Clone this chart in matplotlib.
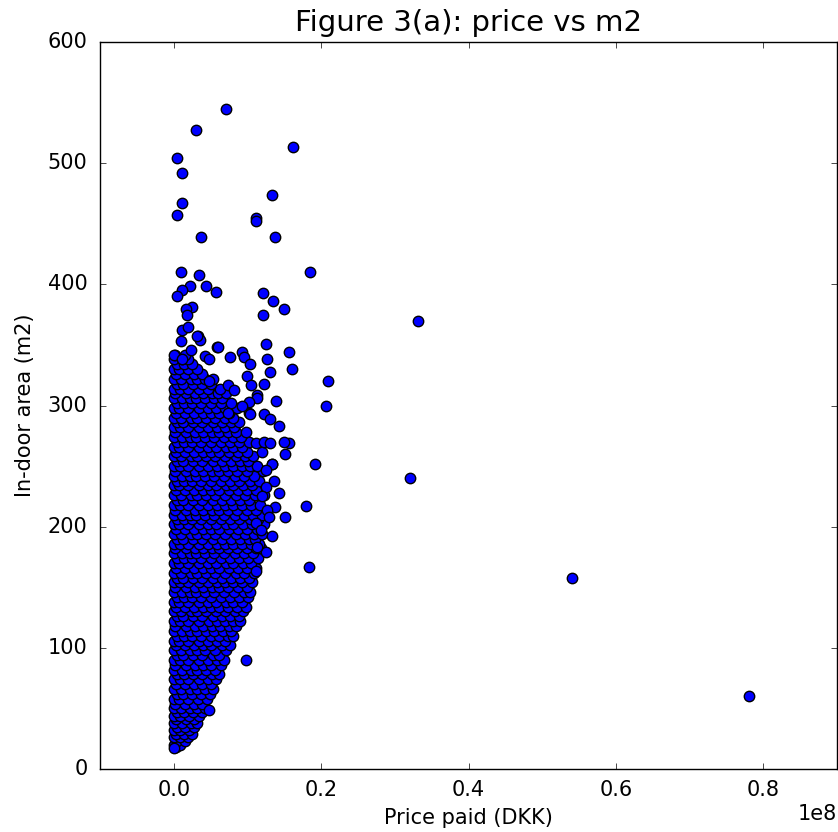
import matplotlib
matplotlib.use("Agg")
import matplotlib.pyplot as plt
from matplotlib.ticker import ScalarFormatter

plt.style.use('classic')

# Dense body of the cloud: area (m2) -> list of prices (million DKK)
dense_rows = {
    18: [0.3],
    20: [0.1, 0.9],
    23: [0.4, 1.5],
    26: [0.0, 0.8, 2.0],
    29: [0.3, 1.4, 2.5],
    32: [0.1, 0.9, 2.1],
    35: [0.5, 1.6, 2.8],
    38: [0.0, 1.1, 2.3, 3.1],
    41: [0.3, 1.7, 2.7],
    44: [0.1, 0.8, 2.1, 3.4],
    47: [0.4, 1.4, 2.6, 3.8],
    50: [0.0, 1.0, 2.2, 3.1, 4.2],
    54: [0.2, 1.6, 2.8, 3.9],
    58: [0.1, 0.7, 1.9, 3.3, 4.5],
    62: [0.4, 1.3, 2.5, 3.7, 4.9],
    66: [0.0, 1.0, 2.2, 3.1, 4.3, 5.3],
    70: [0.3, 1.6, 2.7, 3.9, 5.0],
    74: [0.1, 0.8, 2.0, 3.4, 4.6, 5.8],
    78: [0.5, 1.4, 2.6, 3.8, 5.2, 6.1],
    82: [0.0, 1.1, 2.3, 3.1, 4.4, 5.6],
    86: [0.2, 1.7, 2.9, 4.0, 5.0, 6.4],
    90: [0.1, 0.9, 2.0, 3.5, 4.7, 5.9, 6.8],
    94: [0.4, 1.3, 2.6, 3.8, 5.3, 6.2],
    98: [0.0, 1.0, 2.2, 3.2, 4.3, 5.6, 7.1],
    102: [0.3, 1.6, 2.8, 4.0, 5.1, 6.5, 7.6],
    106: [0.1, 0.7, 1.9, 3.4, 4.6, 5.9, 6.9],
    110: [0.5, 1.4, 2.5, 3.7, 5.0, 6.2, 7.3, 8.1],
    114: [0.0, 1.1, 2.2, 3.1, 4.4, 5.5, 6.7, 7.8],
    118: [0.2, 1.7, 2.9, 4.0, 5.2, 6.3, 7.5, 8.5],
    122: [0.1, 0.9, 2.0, 3.5, 4.8, 5.9, 7.0, 8.1, 9.0],
    126: [0.4, 1.3, 2.6, 3.8, 5.3, 6.5, 7.7, 8.8],
    130: [0.0, 1.0, 2.3, 3.2, 4.4, 5.7, 6.9, 8.3, 9.4],
    134: [0.3, 1.6, 2.7, 4.0, 5.0, 6.2, 7.4, 8.6, 9.8],
    138: [0.1, 0.7, 1.9, 3.4, 4.6, 5.8, 7.1, 8.0, 9.2],
    142: [0.5, 1.4, 2.5, 3.7, 5.1, 6.4, 7.6, 8.9, 10.1],
    146: [0.0, 1.1, 2.2, 3.0, 4.3, 5.5, 6.8, 8.2, 9.5, 10.4],
    150: [0.2, 1.7, 2.9, 4.0, 5.2, 6.1, 7.3, 8.7, 9.9],
    154: [0.1, 0.9, 2.0, 3.5, 4.7, 5.9, 7.0, 8.0, 9.3, 10.6],
    158: [0.4, 1.3, 2.6, 3.8, 5.3, 6.6, 7.8, 9.0, 10.2],
    162: [0.0, 1.0, 2.3, 3.2, 4.4, 5.6, 6.9, 8.4, 9.6, 10.9],
    166: [0.3, 1.6, 2.8, 4.0, 5.0, 6.2, 7.5, 8.7, 10.0, 11.1],
    170: [0.1, 0.7, 1.9, 3.4, 4.6, 5.8, 7.1, 8.1, 9.4, 10.5],
    174: [0.5, 1.4, 2.5, 3.7, 5.1, 6.4, 7.7, 8.9, 10.1, 11.4],
    178: [0.0, 1.1, 2.2, 3.0, 4.3, 5.5, 6.8, 8.3, 9.6, 10.8],
    182: [0.2, 1.7, 2.9, 4.0, 5.2, 6.1, 7.3, 8.6, 9.9, 11.2, 11.8],
    186: [0.1, 0.9, 2.0, 3.5, 4.7, 5.9, 7.0, 8.0, 9.3, 10.5, 11.6],
    190: [0.4, 1.3, 2.6, 3.8, 5.3, 6.6, 7.8, 9.0, 10.2, 11.0],
    194: [0.0, 1.0, 2.3, 3.2, 4.4, 5.6, 6.9, 8.4, 9.7, 10.9, 12.0],
    198: [0.3, 1.6, 2.8, 4.0, 5.0, 6.2, 7.5, 8.7, 10.0, 11.3],
    202: [0.1, 0.7, 1.9, 3.4, 4.6, 5.8, 7.1, 8.1, 9.4, 10.6, 12.2],
    206: [0.5, 1.4, 2.5, 3.7, 5.1, 6.4, 7.7, 8.9, 10.3, 11.5],
    210: [0.0, 1.1, 2.2, 3.0, 4.3, 5.5, 6.8, 8.3, 9.6, 10.8, 12.0],
    214: [0.2, 1.7, 2.9, 4.0, 5.2, 6.1, 7.3, 8.6, 9.9, 11.1],
    218: [0.1, 0.9, 2.0, 3.5, 4.7, 5.9, 7.0, 8.0, 9.2, 10.5, 11.7],
    222: [0.4, 1.3, 2.6, 3.8, 5.3, 6.6, 7.8, 9.0, 10.2],
    226: [0.0, 1.0, 2.3, 3.2, 4.4, 5.6, 6.9, 8.4, 9.7, 11.0, 12.3],
    230: [0.3, 1.6, 2.8, 4.0, 5.0, 6.2, 7.5, 8.7, 10.0, 11.2],
    234: [0.1, 0.7, 1.9, 3.4, 4.6, 5.8, 7.1, 8.1, 9.4, 10.6],
    238: [0.5, 1.4, 2.5, 3.7, 5.1, 6.4, 7.7, 8.9, 10.3, 11.6],
    242: [0.0, 1.1, 2.2, 3.0, 4.3, 5.5, 6.8, 8.3, 9.5, 10.9],
    246: [0.2, 1.7, 2.9, 4.0, 5.2, 6.1, 7.3, 8.6, 9.9, 12.1],
    250: [0.1, 0.9, 2.0, 3.5, 4.7, 5.9, 7.0, 8.0, 9.2, 10.4, 11.3],
    254: [0.4, 1.3, 2.6, 3.8, 5.3, 6.6, 7.8, 9.0, 10.1],
    258: [0.0, 1.0, 2.3, 3.2, 4.4, 5.6, 6.9, 8.4, 9.7, 10.8],
    262: [0.3, 1.6, 2.8, 4.0, 5.0, 6.2, 7.5, 8.7, 9.9, 12.0],
    266: [0.1, 0.7, 1.9, 3.4, 4.6, 5.8, 7.1, 8.1, 9.3],
    270: [0.5, 1.4, 2.5, 3.7, 5.1, 6.4, 7.7, 8.9, 10.2],
    274: [0.0, 1.1, 2.2, 3.0, 4.3, 5.5, 6.8, 8.0, 9.1],
    278: [0.2, 1.7, 2.9, 4.0, 5.2, 6.1, 7.3, 8.5, 9.8],
    282: [0.1, 0.9, 2.0, 3.5, 4.7, 5.9, 7.0, 8.2],
    286: [0.4, 1.3, 2.6, 3.8, 5.3, 6.6, 7.8, 8.9],
    290: [0.0, 1.0, 2.3, 3.2, 4.4, 5.6, 6.9, 8.1],
    294: [0.3, 1.6, 2.8, 4.0, 5.0, 6.2, 7.5],
    298: [0.1, 0.7, 1.9, 3.4, 4.6, 5.8, 7.0, 8.6],
    302: [0.5, 1.4, 2.5, 3.7, 5.1, 6.4, 7.8],
    306: [0.0, 1.1, 2.2, 3.0, 4.3, 5.5, 6.6],
    310: [0.2, 1.7, 2.9, 4.0, 5.2, 6.0, 7.1],
    314: [0.1, 0.9, 2.0, 3.5, 4.7, 6.3],
    318: [0.4, 1.3, 2.6, 3.8, 5.1],
    322: [0.0, 1.0, 2.3, 3.2, 4.3],
    326: [0.3, 1.6, 2.8, 3.9],
    330: [0.1, 0.7, 1.9, 3.1],
    334: [0.5, 1.4, 2.5],
    338: [0.0, 1.1, 2.0],
    342: [0.2, 1.5],
}

# Scattered points outside the dense body (million DKK, m2)
sparse_price = [7.1, 3.0, 16.2, 0.4, 1.1, 13.3, 1.1, 0.4, 11.1, 11.1, 3.7, 13.8,
                1.0, 3.5, 18.5, 2.2, 4.4, 1.1, 0.4, 5.8, 12.1, 13.5, 14.9, 12.1,
                2.5, 1.7, 1.8, 1.1, 1.9, 3.3, 3.6, 5.9, 1.0, 0.0, 2.3, 4.3, 4.8,
                1.1, 3.2,
                12.5, 15.6, 12.7, 16.0, 13.1, 20.9, 12.3, 20.6, 13.9, 6.0, 7.7,
                9.3, 9.6, 10.3, 10.0, 10.5, 7.3, 8.2, 11.3, 11.3, 10.2, 12.3,
                13.1, 14.3, 10.2, 9.3, 7.3, 5.4, 4.8, 10.4, 11.1, 12.2, 13.1,
                15.6, 15.0, 15.1, 13.3, 19.2, 13.4, 12.5, 13.6, 14.3, 12.5, 12.0,
                13.8, 15.1, 12.7, 12.9, 11.1, 11.8, 18.0, 12.5, 11.1, 18.4, 13.4,
                11.3, 9.8, 4.8, 0.1,
                33.2, 32.1, 54.0, 78.0]
sparse_area = [545, 527, 513, 504, 492, 474, 467, 457, 455, 452, 439, 439,
               410, 408, 410, 399, 399, 395, 390, 394, 393, 386, 380, 375,
               381, 380, 375, 362, 365, 357, 354, 348, 353, 342, 346, 341, 338,
               338, 357,
               351, 344, 338, 330, 328, 320, 318, 300, 304, 348, 340,
               344, 340, 334, 324, 317, 317, 313, 309, 306, 303, 293,
               289, 283, 294, 300, 294, 322, 320, 293, 269, 270, 269,
               269, 270, 260, 252, 252, 252, 247, 238, 228, 233, 225,
               216, 208, 214, 208, 203, 197, 217, 179, 163, 167, 192,
               183, 90, 49, 17,
               370, 240, 158, 60]

price = []
area = []
for a, ps in dense_rows.items():
    for p in ps:
        price.append(p * 1e6)
        area.append(a)
price += [p * 1e6 for p in sparse_price]
area += sparse_area


class FixedE8(ScalarFormatter):
    def _set_order_of_magnitude(self):
        self.orderOfMagnitude = 8

    def _set_format(self):
        self.format = '%1.1f'


fig = plt.figure(figsize=(8.38, 8.32), dpi=100, facecolor='white')
ax = fig.add_axes([100/838, 1 - 769/832, 737/838, (769 - 42)/832])
ax.plot(price, area, 'o', color='b', markeredgecolor='k',
        markeredgewidth=1.0, markersize=7.5)
ax.set_xlim(-0.1e8, 0.9e8)
ax.set_ylim(0, 600)
ax.set_xticks([0.0, 0.2e8, 0.4e8, 0.6e8, 0.8e8])
ax.set_yticks([0, 100, 200, 300, 400, 500, 600])
ax.xaxis.set_major_formatter(FixedE8(useOffset=False))
ax.tick_params(labelsize=15, length=4.5)
ax.tick_params(axis='x', pad=8)
ax.tick_params(axis='y', pad=9)
ax.xaxis.get_offset_text().set_fontsize(15)
ax.set_title('Figure 3(a): price vs m2', fontsize=21, pad=8)
ax.set_xlabel('Price paid (DKK)', fontsize=15, labelpad=6)
ax.set_ylabel('In-door area (m2)', fontsize=15, labelpad=9)

fig.savefig('out.png', dpi=100, facecolor='white')
